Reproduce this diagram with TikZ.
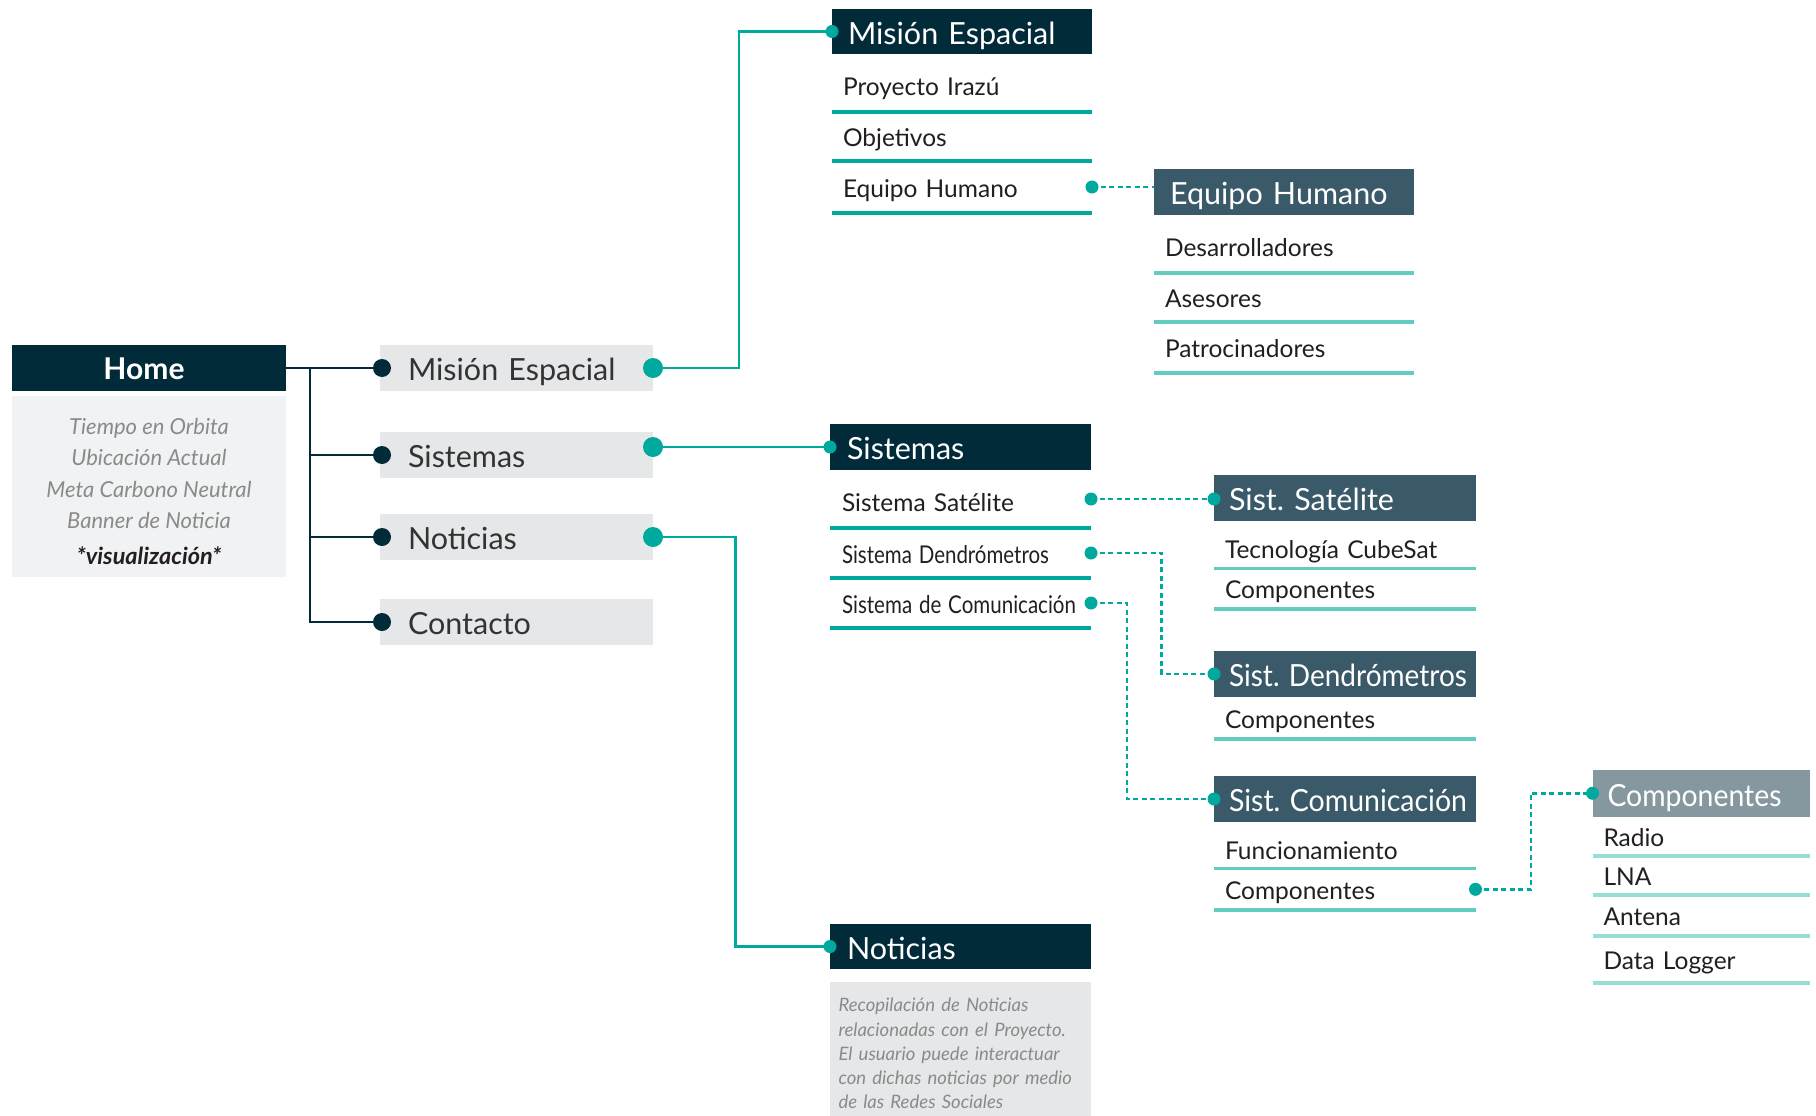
\documentclass[tikz,border=0pt]{standalone}
\usepackage{fontspec}
\setmainfont{Lato}
\usepackage{graphicx}
\definecolor{navy}{HTML}{022B3A}
\definecolor{slate}{HTML}{3A5A69}
\definecolor{greyh}{HTML}{85979F}
\definecolor{boxg}{HTML}{E6E7E8}
\definecolor{homeb}{HTML}{F1F2F3}
\definecolor{tealA}{HTML}{00A99D}
\definecolor{tealB}{HTML}{62CCC0}
\definecolor{tealC}{HTML}{97DFD5}
\definecolor{ink}{HTML}{231F20}
\definecolor{ink2}{HTML}{333333}
\definecolor{hgrey}{HTML}{8A8A8A}
\newcommand\fsz[2]{\fontsize{#1}{#2}\selectfont}
\newcommand\bx[8]{\pgfmathsetmacro\bxtw{#5-2*#7}\node[#1,minimum width=#5pt,minimum height=#6pt,inner xsep=#7pt,text width=\bxtw pt] (#2) at (#3,#4) {#8};}
\newcommand\ulin[2]{\draw[#1] (#2.south west) -- (#2.south east);}
\newcommand\fw[2]{\resizebox{#1pt}{\height}{#2}}
\begin{document}
\frenchspacing
\begin{tikzpicture}[x=1pt,y=-1pt,
  blk/.style={anchor=north west, inner ysep=0pt, outer sep=0pt, align=left},
  hd/.style={blk, text=white, font=\fsz{30.5}{32}, text height=31.5pt, text depth=6pt},
  hN/.style={hd, fill=navy},
  hS/.style={hd, fill=slate},
  hG/.style={hd, fill=greyh},
  navb/.style={blk, fill=boxg, text=ink2, font=\fsz{30.5}{32}, text height=31.5pt, text depth=6pt},
  itm/.style={blk, text=ink, font=\fsz{24.5}{28}, text height=25pt, text depth=5pt},
  ulA/.style={draw=tealA, line width=3.5pt},
  ulB/.style={draw=tealB, line width=3.5pt},
  ulC/.style={draw=tealC, line width=3.5pt},
  trunk/.style={draw=navy, line width=2.8pt},
  tconn/.style={draw=tealA, line width=2.5pt},
  dconn/.style={draw=tealA, line width=2.5pt, dash pattern=on 5pt off 3.5pt},
  tdot/.style={fill=tealA},
  ndot/.style={fill=navy}]
\useasboundingbox (0,0) rectangle (1816,1116);
\fill[white] (0,0) rectangle (1816,1116);

% Home
\bx{hN,align=center,font=\bfseries\fsz{30}{32},text height=29pt}{home}{12}{345}{274}{46}{0}{\hspace*{-10pt}Home}
\bx{blk,fill=homeb}{homebody}{12}{396}{274}{181}{0}{}
\node[align=center,text=hgrey,font=\itshape\fsz{22}{31.5},yshift=-4.5pt] (hbtxt) at (homebody.center) {Tiempo en Orbita\\Ubicación Actual\\Meta Carbono Neutral\\Banner de Noticia\\[4pt]{\color{ink}\bfseries\fsz{23.5}{31.5}*visualización*}};

% main nav
\bx{navb}{nav1}{380}{345}{273}{46}{28}{Misión Espacial}
\bx{navb}{nav2}{380}{432}{273}{46}{28}{Sistemas}
\bx{navb}{nav3}{380}{514}{273}{46}{28}{Noticias}
\bx{navb}{nav4}{380}{599}{273}{46}{28}{Contacto}

% Mision Espacial
\bx{hN}{mis}{832}{9}{260}{45}{16}{Misión Espacial}
\bx{itm,text height=30pt}{mi1}{832}{54}{260}{58}{11}{Proyecto Irazú}
\bx{itm}{mi2}{832}{112}{260}{49}{11}{Objetivos}
\bx{itm}{mi3}{832}{161}{260}{52}{11}{Equipo Humano}
\ulin{ulA}{mi1}\ulin{ulA}{mi2}\ulin{ulA}{mi3}

% Equipo Humano
\bx{hS}{eqh}{1154}{169}{260}{46}{16}{Equipo Humano}
\bx{itm,text height=29pt}{eq1}{1154}{215}{260}{58}{11}{Desarrolladores}
\bx{itm}{eq2}{1154}{273}{260}{49}{11}{Asesores}
\bx{itm}{eq3}{1154}{322}{260}{51}{11}{Patrocinadores}
\ulin{ulB}{eq1}\ulin{ulB}{eq2}\ulin{ulB}{eq3}

% Sistemas
\bx{hN}{sis}{830}{424}{261}{46}{17}{Sistemas}
\bx{itm,text height=29pt}{ss1}{830}{470}{261}{58}{12}{Sistema Satélite}
\bx{itm}{ss2}{830}{528}{261}{50}{12}{\fw{207}{Sistema Dendrómetros}}
\bx{itm}{ss3}{830}{578}{261}{50}{12}{\fw{234}{Sistema de Comunicación}}
\ulin{ulA}{ss1}\ulin{ulA}{ss2}\ulin{ulA}{ss3}

% Sist. Satelite
\bx{hS}{sat}{1214}{475}{261.5}{46}{15}{Sist. Satélite}
\bx{itm,text height=32.5pt}{sa1}{1214}{521}{261.5}{47.7}{11}{Tecnología CubeSat}
\bx{itm}{sa2}{1214}{568.7}{261.5}{40.3}{11}{Componentes}
\ulin{ulB}{sa1}\ulin{ulB}{sa2}

% Sist. Dendrometros
\bx{hS}{den}{1214}{651}{261.5}{46}{15}{\fw{238}{Sist. Dendrómetros}}
\bx{itm}{de1}{1214}{697}{261.5}{42}{11}{Componentes}
\ulin{ulB}{de1}

% Sist. Comunicacion
\bx{hS}{com}{1214}{776}{261.5}{46}{15}{\fw{238}{Sist. Comunicación}}
\bx{itm,text height=32.5pt}{co1}{1214}{822}{261.5}{46.6}{11}{Funcionamiento}
\bx{itm}{co2}{1214}{868.6}{261.5}{41.4}{11}{Componentes}
\ulin{ulB}{co1}\ulin{ulB}{co2}

% Componentes
\bx{hG}{cmp}{1592.5}{770}{217.5}{46.5}{15}{\fw{174}{Componentes}}
\bx{itm}{cp1}{1592.5}{816.5}{217.5}{39.5}{11}{Radio}
\bx{itm}{cp2}{1592.5}{856}{217.5}{39}{11}{LNA}
\bx{itm}{cp3}{1592.5}{895}{217.5}{41}{11}{Antena}
\bx{itm}{cp4}{1592.5}{936}{217.5}{47}{11}{Data Logger}
\ulin{ulC}{cp1}\ulin{ulC}{cp2}\ulin{ulC}{cp3}\ulin{ulC}{cp4}

% Noticias
\bx{hN}{nws}{830}{924}{261}{45}{17}{Noticias}
\bx{blk,fill=boxg}{nwsbody}{830}{982}{261}{134}{8.5}{}
\node[align=left,text width=244pt,inner xsep=0pt,text=hgrey,font=\itshape\fsz{18.5}{24.3},yshift=-4.6pt] (nbtxt) at (nwsbody.center) {Recopilación de Noticias\\relacionadas con el Proyecto.\\El usuario puede interactuar\\con dichas noticias por medio\\de las Redes Sociales};

% trunk
\coordinate (dL1) at ([xshift=2pt]nav1.west);
\coordinate (dL2) at ([xshift=2pt]nav2.west);
\coordinate (dL3) at ([xshift=2pt]nav3.west);
\coordinate (dL4) at ([xshift=2pt]nav4.west);
\coordinate (tr) at (310,368);
\draw[trunk] (home.east) -- (dL1);
\draw[trunk] (tr) |- (dL4);
\draw[trunk] (tr |- dL2) -- (dL2);
\draw[trunk] (tr |- dL3) -- (dL3);
\foreach \d in {dL1,dL2,dL3,dL4} \fill[ndot] (\d) circle (9pt);

% teal solid connectors
\coordinate (dR1) at (nav1.east);
\coordinate (dR2) at ([yshift=8pt]nav2.east);
\coordinate (dR3) at (nav3.east);
\draw[tconn] (dR1) -- ++(86,0) |- (mis.west);
\draw[tconn] (dR2) -- (dR2 -| sis.west);
\draw[tconn] (dR3) -- ++(82.5,0) |- (nws.west);
\foreach \d in {dR1,dR2,dR3} \fill[tdot] (\d) circle (10pt);
\fill[tdot] (mis.west) circle (6.5pt);
\fill[tdot] (dR2 -| sis.west) circle (6.5pt);
\fill[tdot] (nws.west) circle (6.5pt);

% dashed connectors
\draw[dconn] (mi3.east) -- (mi3.east -| eqh.west);
\draw[dconn] (ss1.east) -- (ss1.east -| sat.west);
\draw[dconn] (ss2.east) -- ++(70.7,0) |- (den.west);
\draw[dconn] (ss3.east) -- ++(36,0) |- (com.west);
\draw[dconn] (co2.east) -- ++(55.5,0) |- (cmp.west);
\foreach \d in {mi3.east,ss2.east,ss3.east,co2.east,den.west,com.west,cmp.west} \fill[tdot] (\d) circle (6.5pt);
\fill[tdot] (ss1.east) circle (6.5pt);
\fill[tdot] (ss1.east -| sat.west) circle (6.5pt);
\end{tikzpicture}
\end{document}
